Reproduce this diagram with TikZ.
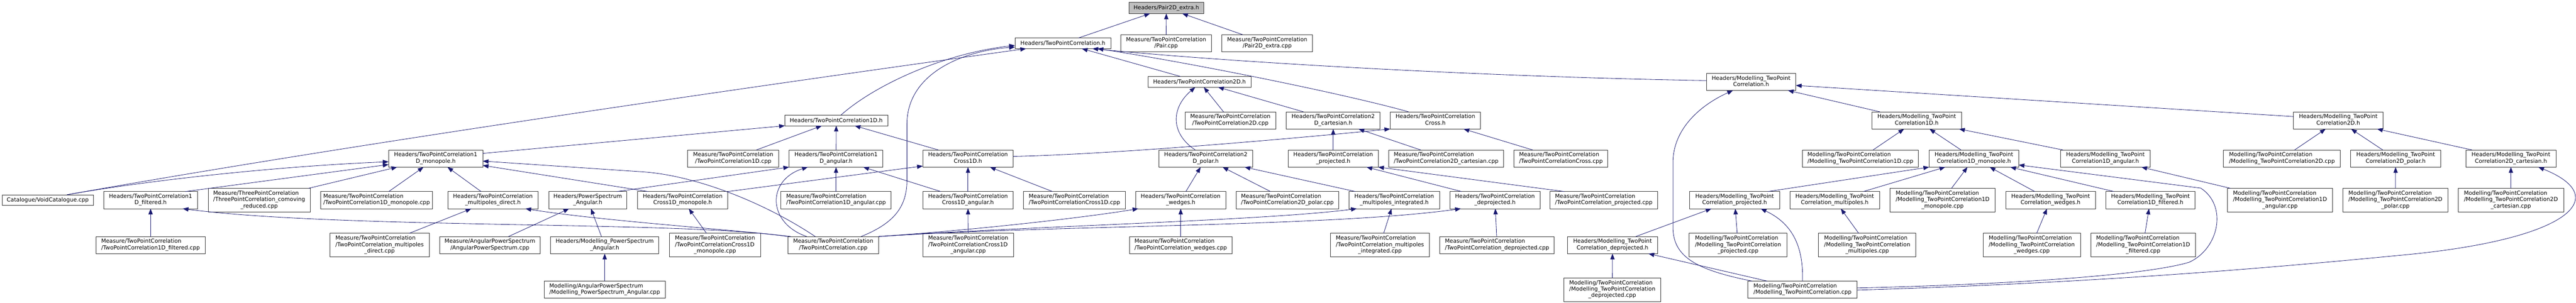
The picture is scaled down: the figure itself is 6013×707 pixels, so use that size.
\documentclass[tikz,border=0pt]{standalone}
\usepackage{fontspec}
\setmainfont{DejaVu Sans}
\usetikzlibrary{arrows.meta,calc}
\definecolor{mblue}{HTML}{191970}
\definecolor{nborder}{HTML}{333333}
\definecolor{rootfill}{HTML}{BFBFBF}
\newcommand\ltwo[2]{\begin{tabular}{@{}l@{}}#1\\\multicolumn{1}{@{}c@{}}{#2}\end{tabular}}
\newcommand\lthree[3]{\begin{tabular}{@{}l@{}}#1\\#2\\\multicolumn{1}{@{}c@{}}{#3}\end{tabular}}
\newcommand\nd[6]{\node[dbox,minimum width=#4*0.75pt,minimum height=#5*0.75pt] (#1) at (#2,#3) {#6};}
\begin{document}
\begin{tikzpicture}[x=0.75pt,y=-0.75pt,
  font=\fontsize{9.7}{11.1}\selectfont,
  dbox/.style={draw=nborder,line width=0.75pt,fill=white,rectangle,inner sep=0pt,outer sep=0pt},
  edg/.style={draw=mblue,line width=0.75pt,-{Triangle[length=10pt,width=7.5pt]}}]
\fill[white] (0,0) rectangle (6013,707);
\useasboundingbox (0,0) rectangle (6013,707);
% row 0
\node[dbox,fill=rootfill,minimum width=175*0.75pt,minimum height=26*0.75pt] (N0) at (2722.5,18.6) {Headers/Pair2D\_extra.h};
% row 1
\nd{N1}{2481}{101}{224}{25}{Headers/TwoPointCorrelation.h}
\nd{N2}{2722}{101}{211}{40}{\ltwo{Measure/TwoPointCorrelation}{/Pair.cpp}}
\nd{N3}{2958}{101}{212}{40}{\ltwo{Measure/TwoPointCorrelation}{/Pair2D\_extra.cpp}}
% row 2
\nd{N4}{2800}{191}{241}{25}{Headers/TwoPointCorrelation2D.h}
\nd{N5}{4087.5}{191}{209}{40}{\ltwo{Headers/Modelling\_TwoPoint}{Correlation.h}}
% row 3
\nd{N6}{1952}{281}{240}{25}{Headers/TwoPointCorrelation1D.h}
\nd{N7}{3112}{281}{219}{40}{\ltwo{Headers/TwoPointCorrelation2}{D\_cartesian.h}}
\nd{N8}{2872}{281}{212}{40}{\ltwo{Measure/TwoPointCorrelation}{/TwoPointCorrelation2D.cpp}}
\nd{N9}{3350.5}{281}{211}{40}{\ltwo{Headers/TwoPointCorrelation}{Cross.h}}
\nd{N10}{4474}{281}{210}{40}{\ltwo{Headers/Modelling\_TwoPoint}{Correlation1D.h}}
\nd{N11}{5458}{281}{210}{40}{\ltwo{Headers/Modelling\_TwoPoint}{Correlation2D.h}}
% row 4
\nd{N12}{1017}{370}{220}{40}{\ltwo{Headers/TwoPointCorrelation1}{D\_monopole.h}}
\nd{N13}{1711.5}{370}{213}{40}{\ltwo{Measure/TwoPointCorrelation}{/TwoPointCorrelation1D.cpp}}
\nd{N14}{1951.5}{370}{219}{40}{\ltwo{Headers/TwoPointCorrelation1}{D\_angular.h}}
\nd{N15}{2259.5}{370}{211}{40}{\ltwo{Headers/TwoPointCorrelation}{Cross1D.h}}
\nd{N16}{2814.5}{370}{219}{40}{\ltwo{Headers/TwoPointCorrelation2}{D\_polar.h}}
\nd{N17}{3112}{370}{210}{40}{\ltwo{Headers/TwoPointCorrelation}{\_projected.h}}
\nd{N18}{3375.5}{370}{269}{40}{\ltwo{Measure/TwoPointCorrelation}{/TwoPointCorrelation2D\_cartesian.cpp}}
\nd{N19}{3643.5}{370}{219}{40}{\ltwo{Measure/TwoPointCorrelation}{/TwoPointCorrelationCross.cpp}}
\nd{N20}{4342.5}{370}{271}{40}{\ltwo{Modelling/TwoPointCorrelation}{/Modelling\_TwoPointCorrelation1D.cpp}}
\nd{N21}{4607.5}{370}{209}{40}{\ltwo{Headers/Modelling\_TwoPoint}{Correlation1D\_monopole.h}}
\nd{N22}{4914.5}{370}{209}{40}{\ltwo{Headers/Modelling\_TwoPoint}{Correlation1D\_angular.h}}
\nd{N23}{5326.5}{370}{273}{40}{\ltwo{Modelling/TwoPointCorrelation}{/Modelling\_TwoPointCorrelation2D.cpp}}
\nd{N24}{5592}{370}{210}{40}{\ltwo{Headers/Modelling\_TwoPoint}{Correlation2D\_polar.h}}
\nd{N25}{5861}{370}{210}{40}{\ltwo{Headers/Modelling\_TwoPoint}{Correlation2D\_cartesian.h}}
% row 5
\nd{N26}{111.5}{467}{213}{25}{Catalogue/VoidCatalogue.cpp}
\nd{N27}{351.5}{467}{219}{40}{\ltwo{Headers/TwoPointCorrelation1}{D\_filtered.h}}
\nd{N28}{605}{467}{238}{55}{\lthree{Measure/ThreePointCorrelation}{/ThreePointCorrelation\_comoving}{\_reduced.cpp}}
\nd{N29}{879}{467}{262}{40}{\ltwo{Measure/TwoPointCorrelation}{/TwoPointCorrelation1D\_monopole.cpp}}
\nd{N30}{1150.5}{467}{211}{40}{\ltwo{Headers/TwoPointCorrelation}{\_multipoles\_direct.h}}
\nd{N31}{1372}{467}{182}{40}{\ltwo{Headers/PowerSpectrum}{\_Angular.h}}
\nd{N32}{1593.5}{467}{211}{40}{\ltwo{Headers/TwoPointCorrelation}{Cross1D\_monopole.h}}
\nd{N33}{1951.5}{467}{257}{40}{\ltwo{Measure/TwoPointCorrelation}{/TwoPointCorrelation1D\_angular.cpp}}
\nd{N34}{2259.5}{467}{211}{40}{\ltwo{Headers/TwoPointCorrelation}{Cross1D\_angular.h}}
\nd{N35}{2508}{467}{238}{40}{\ltwo{Measure/TwoPointCorrelation}{/TwoPointCorrelationCross1D.cpp}}
\nd{N36}{2756}{467}{210}{40}{\ltwo{Headers/TwoPointCorrelation}{\_wedges.h}}
\nd{N37}{3005}{467}{240}{40}{\ltwo{Measure/TwoPointCorrelation}{/TwoPointCorrelation2D\_polar.cpp}}
\nd{N38}{3254.5}{467}{211}{40}{\ltwo{Headers/TwoPointCorrelation}{\_multipoles\_integrated.h}}
\nd{N39}{3489.5}{467}{211}{40}{\ltwo{Headers/TwoPointCorrelation}{\_deprojected.h}}
\nd{N40}{3743.5}{467}{251}{40}{\ltwo{Measure/TwoPointCorrelation}{/TwoPointCorrelation\_projected.cpp}}
\nd{N41}{4049}{467}{210}{40}{\ltwo{Headers/Modelling\_TwoPoint}{Correlation\_projected.h}}
\nd{N42}{4282.5}{467}{209}{40}{\ltwo{Headers/Modelling\_TwoPoint}{Correlation\_multipoles.h}}
\nd{N43}{4534.5}{467}{245}{55}{\lthree{Modelling/TwoPointCorrelation}{/Modelling\_TwoPointCorrelation1D}{\_monopole.cpp}}
\nd{N44}{4786.5}{467}{209}{40}{\ltwo{Headers/Modelling\_TwoPoint}{Correlation\_wedges.h}}
\nd{N45}{5019.5}{467}{209}{40}{\ltwo{Headers/Modelling\_TwoPoint}{Correlation1D\_filtered.h}}
\nd{N46}{5322}{467}{246}{55}{\lthree{Modelling/TwoPointCorrelation}{/Modelling\_TwoPointCorrelation1D}{\_angular.cpp}}
\nd{N47}{5591.5}{467}{245}{55}{\lthree{Modelling/TwoPointCorrelation}{/Modelling\_TwoPointCorrelation2D}{\_polar.cpp}}
\nd{N48}{5861}{467}{246}{55}{\lthree{Modelling/TwoPointCorrelation}{/Modelling\_TwoPointCorrelation2D}{\_cartesian.cpp}}
% row 6
\nd{N49}{351.5}{572}{255}{40}{\ltwo{Measure/TwoPointCorrelation}{/TwoPointCorrelation1D\_filtered.cpp}}
\nd{N50}{886}{572}{232}{55}{\lthree{Measure/TwoPointCorrelation}{/TwoPointCorrelation\_multipoles}{\_direct.cpp}}
\nd{N51}{1143.5}{572}{235}{40}{\ltwo{Measure/AngularPowerSpectrum}{/AngularPowerSpectrum.cpp}}
\nd{N52}{1411.5}{572}{253}{40}{\ltwo{Headers/Modelling\_PowerSpectrum}{\_Angular.h}}
\nd{N53}{1669}{572}{212}{55}{\lthree{Measure/TwoPointCorrelation}{/TwoPointCorrelationCross1D}{\_monopole.cpp}}
\nd{N54}{1945}{572}{212}{40}{\ltwo{Measure/TwoPointCorrelation}{/TwoPointCorrelation.cpp}}
\nd{N55}{2260}{572}{212}{55}{\lthree{Measure/TwoPointCorrelation}{/TwoPointCorrelationCross1D}{\_angular.cpp}}
\nd{N56}{2756}{572}{240}{40}{\ltwo{Measure/TwoPointCorrelation}{/TwoPointCorrelation\_wedges.cpp}}
\nd{N57}{3221}{572}{232}{55}{\lthree{Measure/TwoPointCorrelation}{/TwoPointCorrelation\_multipoles}{\_integrated.cpp}}
\nd{N58}{3494.5}{572}{267}{40}{\ltwo{Measure/TwoPointCorrelation}{/TwoPointCorrelation\_deprojected.cpp}}
\nd{N59}{3764}{572}{210}{40}{\ltwo{Headers/Modelling\_TwoPoint}{Correlation\_deprojected.h}}
\nd{N60}{4057}{572}{228}{55}{\lthree{Modelling/TwoPointCorrelation}{/Modelling\_TwoPointCorrelation}{\_projected.cpp}}
\nd{N61}{4358.5}{572}{227}{55}{\lthree{Modelling/TwoPointCorrelation}{/Modelling\_TwoPointCorrelation}{\_multipoles.cpp}}
\nd{N62}{4742.5}{572}{227}{55}{\lthree{Modelling/TwoPointCorrelation}{/Modelling\_TwoPointCorrelation}{\_wedges.cpp}}
\nd{N63}{5002.5}{572}{245}{55}{\lthree{Modelling/TwoPointCorrelation}{/Modelling\_TwoPointCorrelation1D}{\_filtered.cpp}}
% row 7
\nd{N64}{1411.5}{676}{283}{40}{\ltwo{Modelling/AngularPowerSpectrum}{/Modelling\_PowerSpectrum\_Angular.cpp}}
\nd{N65}{3763.5}{676}{227}{55}{\lthree{Modelling/TwoPointCorrelation}{/Modelling\_TwoPointCorrelation}{\_deprojected.cpp}}
\nd{N66}{4207.5}{676}{255}{40}{\ltwo{Modelling/TwoPointCorrelation}{/Modelling\_TwoPointCorrelation.cpp}}
% ---------------- edges ----------------
\draw[edg] (N1) -- (N0);
\draw[edg] (N2) -- (N0);
\draw[edg] (N3) -- (N0);
\draw[edg] (N4) -- (N1);
\draw[edg] ($(N5.west)+(0,-3)$) .. controls (3500,180) and (2900,148) .. ($(N1.south)+(69,0)$);
\draw[edg] ($(N9.north)+(-62.5,0)$) .. controls (3150,222) and (2800,150) .. ($(N1.south)+(81,0)$);
\draw[edg] ($(N6.north)+(11,0)$) .. controls (2040,200) and (2200,125) .. ($(N1.west)+(0,5)$);
\draw[edg] ($(N54.north)+(65,0)$) .. controls (2090,520) and (2117,480) .. (2117,420) -- (2117,290) .. controls (2117,170) and (2250,118) .. ($(N1.west)+(0,9)$);
\draw[edg] ($(N26.north)+(45,0)$) .. controls (800,340) and (1700,210) .. ($(N1.south)+(-86,0)$);
\draw[edg] (N7) -- (N4);
\draw[edg] (N8) -- (N4);
\draw[edg] ($(N16.north)+(-24.5,0)$) .. controls (2730,310) and (2735,250) .. ($(N4.south)+(-10,0)$);
\draw[edg] ($(N12.east)+(0,-12)$) -- (N6.south west);
\draw[edg] (N13) -- (N6);
\draw[edg] (N14) -- (N6);
\draw[edg] (N15) -- (N6);
\draw[edg] ($(N15.east)+(0,-5)$) .. controls (2600,360) and (3000,325) .. (N9.south west);
\draw[edg] (N19) -- (N9);
\draw[edg] (N17) -- (N7);
\draw[edg] (N18) -- (N7);
\draw[edg] ($(N26.north)+(45,0)$) .. controls (350,420) and (650,388) .. ($(N12.west)+(0,7.5)$);
\draw[edg] ($(N27.north)+(81.5,0)$) -- ($(N12.west)+(0,14)$);
\draw[edg] ($(N28.north)+(115,0)$) -- ($(N12.south)+(-90,0)$);
\draw[edg] (N29) -- (N12);
\draw[edg] (N30) -- (N12);
\draw[edg] ($(N32.north)+(-80.5,0)$) -- ($(N12.east)+(0,16)$);
\draw[edg] ($(N54.north)+(-42,0)$) .. controls (1780,470) and (1620,409) .. (1500,401) -- ($(N12.east)+(0,6)$);
\draw[edg] ($(N31.north)+(68,0)$) -- (N14.south west);
\draw[edg] (N33) -- (N14);
\draw[edg] (N34) -- (N14);
\draw[edg] ($(N54.north)+(-62,0)$) .. controls (1790,520) and (1790,420) .. ($(N14.south)+(-66,0)$);
\draw[edg] (N32.north east) -- ($(N15.west)+(0,17.5)$);
\draw[edg] (N34) -- (N15);
\draw[edg] (N35) -- (N15);
\draw[edg] (N36) -- (N16);
\draw[edg] (N37) -- (N16);
\draw[edg] (N38) -- (N16);
\draw[edg] (N39) -- (N17);
\draw[edg] ($(N40.north)+(-92,0)$) -- (N17.south east);
\draw[edg] (N49) -- (N27);
\draw[edg] (N54.north west) .. controls (1600,515) and (800,535) .. ($(N27.south)+(75,0)$);
\draw[edg] (N50) -- (N30);
\draw[edg] ($(N54.north west)+(7,0)$) .. controls (1700,535) and (1400,515) .. ($(N30.south)+(76,0)$);
\draw[edg] (N51) -- (N31);
\draw[edg] (N52) -- (N31);
\draw[edg] (N64) -- (N52);
\draw[edg] (N53) -- (N32);
\draw[edg] (N55) -- (N34);
\draw[edg] (N56) -- (N36);
\draw[edg] (N54.north east) .. controls (2300,535) and (2550,505) .. ($(N36.south west)+(6,0)$);
\draw[edg] (N54.north east) .. controls (2400,528) and (2950,515) .. ($(N38.south west)+(18,0)$);
\draw[edg] (N54.north east) .. controls (2450,525) and (3100,530) .. ($(N39.south west)+(26,0)$);
\draw[edg] (N57) -- (N38);
\draw[edg] (N58) -- (N39);
% right part
\draw[edg] (N10) -- (N5);
\draw[edg] ($(N11.west)+(0,-9)$) -- ($(N5.east)+(0,8.4)$);
\draw[edg] ($(N66.north)+(-117.5,0)$) .. controls (3960,630) and (3905,600) .. (3905,530) -- (3905,380) .. controls (3905,300) and (3970,245) .. ($(N5.south)+(-42.5,0)$);
\draw[edg] ($(N66.north)+(-82.5,0)$) -- ($(N59.south)+(84,0)$);
\draw[edg] (N20) -- (N10);
\draw[edg] (N21) -- (N10);
\draw[edg] (N22) -- (N10);
\draw[edg] (N23) -- (N11);
\draw[edg] (N24) -- (N11);
\draw[edg] (N25) -- (N11);
\draw[edg] ($(N41.north)+(77.7,0)$) -- (N21.south west);
\draw[edg] (N42) -- (N21);
\draw[edg] (N43) -- (N21);
\draw[edg] (N44) -- (N21);
\draw[edg] (N45) -- (N21);
\draw[edg] ($(N66.east)+(0,-4)$) .. controls (4650,665) and (5000,645) .. (5110,612) .. controls (5180,580) and (5200,480) .. (5137,439) -- ($(N21.east)+(0,15)$);
\draw[edg] ($(N66.east)+(0,1)$) .. controls (4900,660) and (5300,625) .. (5600,596) .. controls (6000,560) and (6100,460) .. ($(N25.south)+(64,0)$);
\draw[edg] (N46) -- (N22);
\draw[edg] (N47) -- (N24);
\draw[edg] (N48) -- (N25);
\draw[edg] (N59) -- (N41);
\draw[edg] (N60) -- (N41);
\draw[edg] (N66.north) .. controls (4210,570) and (4180,520) .. ($(N41.south)+(61,0)$);
\draw[edg] (N61) -- (N42);
\draw[edg] (N62) -- (N44);
\draw[edg] (N63) -- (N45);
\draw[edg] (N65) -- (N59);
\end{tikzpicture}
\end{document}
